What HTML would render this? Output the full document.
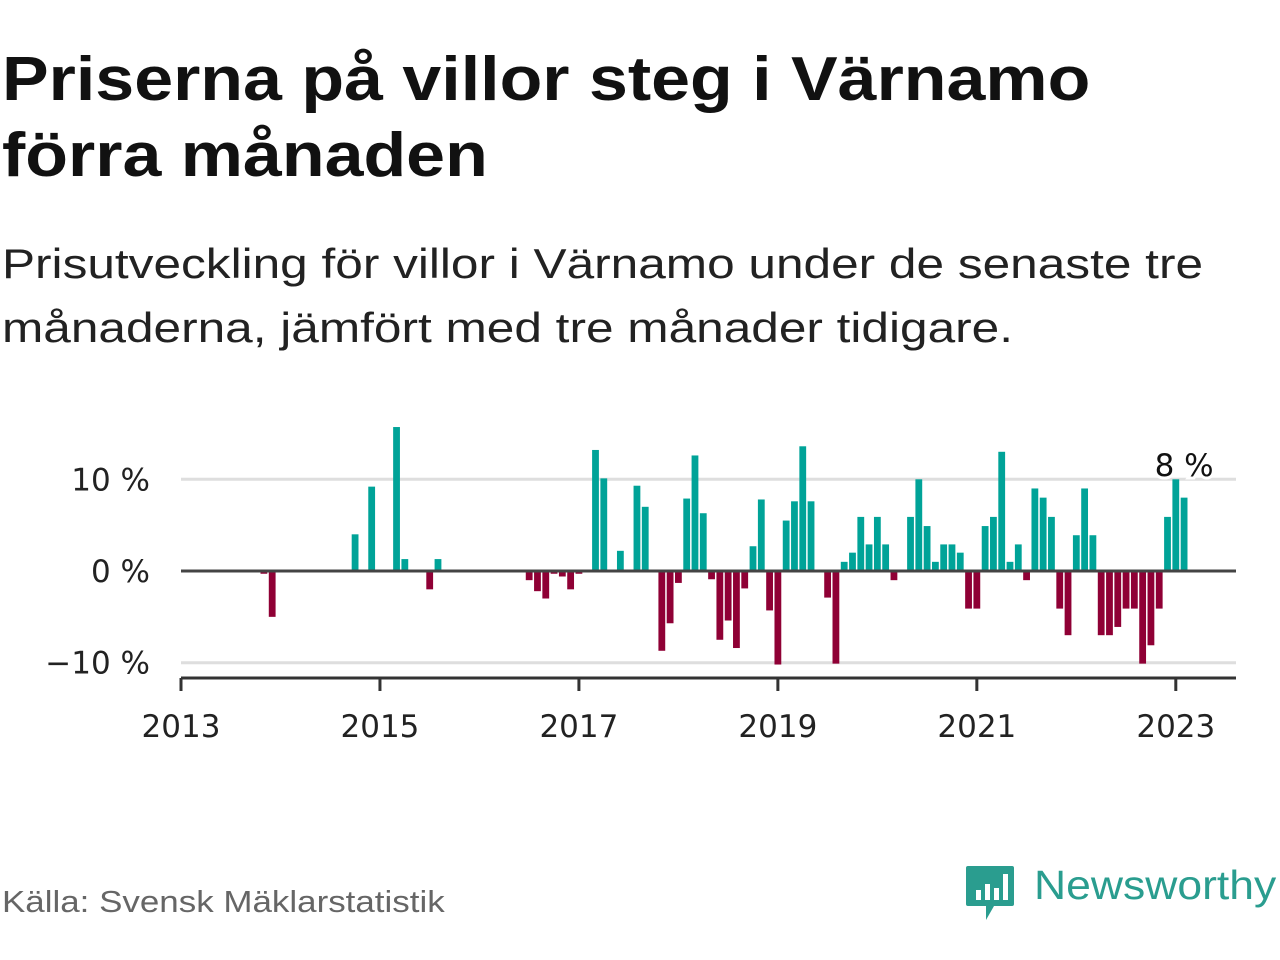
<!DOCTYPE html>
<html><head><meta charset="utf-8"><style>
body{margin:0;background:#fff;width:1280px;height:960px;overflow:hidden;font-family:"Liberation Sans","DejaVu Sans",sans-serif;}
h1{position:absolute;left:2px;top:42px;margin:0;font-size:62px;line-height:76px;font-weight:bold;color:#111;transform:scaleX(1.128);transform-origin:0 0;white-space:nowrap}
.sub{position:absolute;left:2px;top:232px;font-size:42px;line-height:64px;color:#222;transform:scaleX(1.18);transform-origin:0 0;white-space:nowrap}
.src{position:absolute;left:2px;top:884px;font-size:31px;color:#666;transform:scaleX(1.127);transform-origin:0 0;white-space:nowrap}
.logo{position:absolute;left:1034px;top:862px;font-size:41px;color:#2a9d8f;transform:scaleX(1.085);transform-origin:0 0;white-space:nowrap}
</style></head><body>
<h1>Priserna på villor steg i Värnamo<br>förra månaden</h1>
<div class="sub">Prisutveckling för villor i Värnamo under de senaste tre<br>månaderna, jämfört med tre månader tidigare.</div>
<svg id="chart" width="1280" height="960" style="position:absolute;left:0;top:0"></svg>
<div class="src">Källa: Svensk Mäklarstatistik</div>
<svg style="position:absolute;left:964px;top:864px" width="52" height="60">
<path d="M2 4 Q2 2 4 2 L48 2 Q50 2 50 4 L50 40 Q50 42 48 42 L30 42 L22 56 L22 42 L4 42 Q2 42 2 40Z" fill="#2a9d8f"/>
<rect x="12" y="26" width="5" height="10" fill="#fff"/><rect x="21" y="20" width="5" height="16" fill="#fff"/><rect x="30" y="24" width="5" height="12" fill="#fff"/><rect x="39" y="10" width="5" height="26" fill="#fff"/>
</svg>
<div class="logo">Newsworthy</div>
<script>
const values = [0,0,0,0,0,0,0,0,0,0,-0.3,-5.0,0,0,0,0,0,0,0,0,0,4.0,0,9.2,0,0,15.7,1.3,0,0,-2.0,1.3,0,0,0,0,0,0,0,0,0,0,-1.0,-2.2,-3.0,-0.3,-0.6,-2.0,-0.3,0,13.2,10.1,0,2.2,0,9.3,7.0,0,-8.7,-5.7,-1.3,7.9,12.6,6.3,-0.9,-7.5,-5.4,-8.4,-1.9,2.7,7.8,-4.3,-10.2,5.5,7.6,13.6,7.6,0,-2.9,-10.1,1,2,5.9,2.9,5.9,2.9,-1,0,5.9,10,4.9,1,2.9,2.9,2,-4.1,-4.1,4.9,5.9,13,1,2.9,-1,9,8,5.9,-4.1,-7,3.9,9,3.9,-7,-7,-6.1,-4.1,-4.1,-10.1,-8.1,-4.1,5.9,10,8];
const yTicks = [10,0,-10];
const yTickLabels = ["10 %","0 %","\u221210 %"];
const xTicks = [2013,2015,2017,2019,2021,2023];
const lastLabel = "8 %";
const NS="http://www.w3.org/2000/svg";
const svg=document.getElementById('chart');
const x0=181, mW=8.29, y0=571, pp=9.17;
const xm=i=>x0+i*mW;
const xy=yr=>x0+(yr-2013)*12*mW;
const y=v=>y0-v*pp;
const FF='"DejaVu Sans","Liberation Sans",sans-serif';
function mk(t,a){const e=document.createElementNS(NS,t);for(const k in a)e.setAttribute(k,a[k]);svg.appendChild(e);return e;}
yTicks.forEach((v,i)=>{
 if(v!==0){const g=mk('line',{x1:181,x2:1236,y1:y(v),y2:y(v),stroke:'#dedede','stroke-width':3});
 
 }
 const t=mk('text',{x:150,y:y(v)+11,'text-anchor':'end','font-size':31,fill:'#222','font-family':FF});
 t.textContent=yTickLabels[i];
 
 
});
values.forEach((v,i)=>{
 if(v===0)return;
 const r=mk('rect',{x:xm(i)-3.4,width:6.8,y:v>0?y(v):y0,height:Math.abs(v)*pp,fill:v>0?'#00a398':'#8f0035'});
 
 
});
const z=mk('line',{x1:181,x2:1236,y1:y0,y2:y0,stroke:'#444','stroke-width':3});


const ax=mk('line',{x1:181,x2:1236,y1:678,y2:678,stroke:'#333','stroke-width':3});


xTicks.forEach(yr=>{
 const l=mk('line',{x1:xy(yr),x2:xy(yr),y1:678,y2:691,stroke:'#333','stroke-width':3});
 
 
 const t=mk('text',{x:xy(yr),y:737,'text-anchor':'middle','font-size':31,fill:'#222','font-family':FF});
 t.textContent=yr;
 
 
});
const li=values.length-1;
const lb=mk('text',{x:xm(li),y:476,'text-anchor':'middle','font-size':31,fill:'#111',stroke:'#fff','stroke-width':6,'paint-order':'stroke','font-family':FF});
lb.textContent=lastLabel;


</script>
</body></html>
